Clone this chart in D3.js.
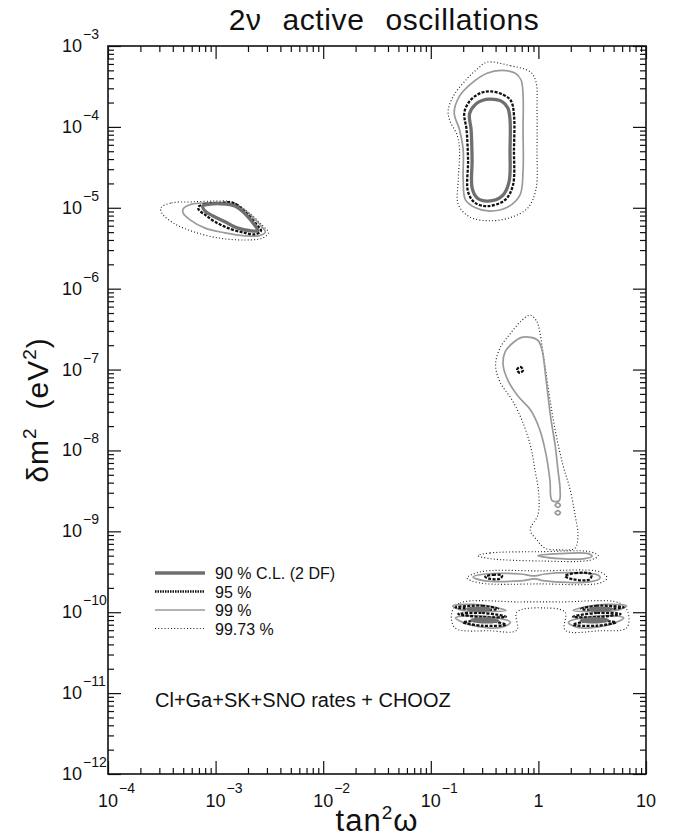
<!DOCTYPE html>
<html>
<head>
<meta charset="utf-8">
<script src="https://cdn.jsdelivr.net/npm/d3@7"></script>
<style>
  body { margin: 0; background: #fff; }
  svg text { font-family: "Liberation Sans", Arial, sans-serif; fill: #111; }
</style>
</head>
<body>
<div id="chart"></div>
<script>
// ---- axis ticks ----
const xMajor = [1e-4, 1e-3, 1e-2, 1e-1, 1, 10];
const xMajorBase = ["10", "10", "10", "10", "1", "10"];
const xMajorExp = ["\u22124", "\u22123", "\u22122", "\u22121", "", ""];
const yMajor = [1e-12, 1e-11, 1e-10, 1e-9, 1e-8, 1e-7, 1e-6, 1e-5, 1e-4, 1e-3];
const yMajorExp = ["\u221212", "\u221211", "\u221210", "\u22129", "\u22128", "\u22127", "\u22126", "\u22125", "\u22124", "\u22123"];

// ---- contours: [tan^2 omega, delta m^2 (eV^2)] ----
// LMA
const lma90 = [[0.36,2.2e-4],[0.46,2.05e-4],[0.52,1.71e-4],[0.545,1.22e-4],[0.545,5.2e-5],[0.533,2.08e-5],[0.46,1.4e-5],[0.34,1.21e-5],[0.27,1.32e-5],[0.242,1.76e-5],[0.242,3.9e-5],[0.237,9.2e-5],[0.229,1.45e-4],[0.26,1.9e-4],[0.3,2.12e-4]];
const lma95 = [[0.36,2.75e-4],[0.47,2.5e-4],[0.556,2.1e-4],[0.593,1.4e-4],[0.593,5.2e-5],[0.58,1.9e-5],[0.49,1.25e-5],[0.34,1.05e-5],[0.258,1.15e-5],[0.222,1.57e-5],[0.222,3.9e-5],[0.215,9.2e-5],[0.205,1.5e-4],[0.231,2.1e-4],[0.286,2.6e-4]];
const lma99 = [[0.45,5.0e-4],[0.61,4.6e-4],[0.69,3.8e-4],[0.72,2.5e-4],[0.72,9.2e-5],[0.72,2.9e-5],[0.675,1.44e-5],[0.52,1.02e-5],[0.355,9.1e-6],[0.26,1.0e-5],[0.21,1.25e-5],[0.2,2.2e-5],[0.2,5.2e-5],[0.185,9.2e-5],[0.165,1.5e-4],[0.185,2.4e-4],[0.242,3.5e-4],[0.333,4.6e-4]];
const lma9973 = [[0.33,6.3e-4],[0.55,5.7e-4],[0.84,4.8e-4],[0.95,3.6e-4],[0.97,1.6e-4],[0.97,5.2e-5],[0.95,1.7e-5],[0.80,1.0e-5],[0.57,7.7e-6],[0.36,6.9e-6],[0.23,7.7e-6],[0.18,1.1e-5],[0.18,2.2e-5],[0.185,5.2e-5],[0.175,8.0e-5],[0.15,1.2e-4],[0.145,1.6e-4],[0.165,2.5e-4],[0.22,4.0e-4],[0.275,5.3e-4]];
// SMA
const sma90 = [[7.6e-4,1.05e-5],[8.9e-4,1.11e-5],[1.22e-3,1.11e-5],[1.51e-3,1.05e-5],[1.92e-3,8.2e-6],[2.37e-3,5.8e-6],[2.48e-3,5.2e-6],[2.09e-3,5.2e-6],[1.61e-3,5.6e-6],[1.22e-3,6.7e-6],[9.5e-4,7.9e-6],[8.0e-4,9.1e-6]];
const sma95 = [[6.9e-4,1.02e-5],[8.0e-4,1.11e-5],[1.1e-3,1.15e-5],[1.45e-3,1.15e-5],[1.87e-3,8.9e-6],[2.43e-3,6.1e-6],[2.64e-3,5.2e-6],[2.32e-3,4.7e-6],[1.87e-3,4.9e-6],[1.36e-3,5.5e-6],[9.9e-4,6.7e-6],[8.0e-4,8.2e-6],[7.0e-4,9.4e-6]];
const sma99 = [[5.0e-4,9.7e-6],[6.0e-4,1.11e-5],[8.0e-4,1.15e-5],[1.22e-3,1.15e-5],[1.58e-3,1.08e-5],[2.1e-3,8.2e-6],[2.7e-3,5.8e-6],[2.9e-3,5.0e-6],[2.5e-3,4.5e-6],[1.87e-3,4.5e-6],[1.22e-3,4.9e-6],[8.0e-4,5.6e-6],[5.8e-4,7.1e-6],[5.0e-4,8.6e-6]];
const sma9973 = [[3.1e-4,1.0e-5],[3.9e-4,1.15e-5],[5.8e-4,1.18e-5],[9.9e-4,1.21e-5],[1.42e-3,1.18e-5],[2.0e-3,8.9e-6],[2.7e-3,6.1e-6],[3.1e-3,4.9e-6],[2.7e-3,4.2e-6],[1.87e-3,4.0e-6],[1.1e-3,4.2e-6],[6.4e-4,5.0e-6],[4.2e-4,6.3e-6],[3.2e-4,8.4e-6]];
// LOW
const low95 = [[0.632,9.9e-8],[0.675,1.08e-7],[0.72,9.9e-8],[0.675,9.1e-8]];
const low99 = [[0.85,2.5e-7],[0.99,2.3e-7],[1.08,1.75e-7],[1.18,7.4e-8],[1.31,2.4e-8],[1.43,1.17e-8],[1.52,5.7e-9],[1.59,3.3e-9],[1.56,2.4e-9],[1.34,2.4e-9],[1.28,4.3e-9],[1.18,8.8e-9],[1.03,1.8e-8],[0.84,3.2e-8],[0.645,4.7e-8],[0.52,7.4e-8],[0.47,1.14e-7],[0.49,1.65e-7],[0.57,2.1e-7],[0.70,2.5e-7]];
const low99a = [[1.43,2.1e-9],[1.52,2.25e-9],[1.6,2.1e-9],[1.52,1.98e-9]];
const low99b = [[1.43,1.7e-9],[1.52,1.8e-9],[1.6,1.7e-9],[1.52,1.6e-9]];
const low9973 = [[0.84,4.7e-7],[0.97,3.9e-7],[1.03,2.9e-7],[1.13,1.32e-7],[1.26,4.9e-8],[1.43,1.8e-8],[1.69,6.6e-9],[1.97,3.3e-9],[2.19,1.6e-9],[2.33,9.0e-10],[2.19,6.2e-10],[1.59,5.9e-10],[1.15,6.2e-10],[0.97,7.8e-10],[0.84,1.04e-9],[0.99,1.6e-9],[1.01,2.8e-9],[0.93,5.7e-9],[0.84,1.17e-8],[0.70,2.4e-8],[0.57,4.2e-8],[0.44,7.0e-8],[0.40,1.14e-7],[0.44,1.85e-7],[0.55,2.8e-7],[0.68,3.9e-7]];
// bands near 5e-10 and 2.7e-10
const bandA99 = [[0.99,5.0e-10],[1.59,5.3e-10],[2.9,5.3e-10],[3.15,4.9e-10],[2.7,4.6e-10],[1.59,4.6e-10]];
const bandA9973 = [[0.275,5.0e-10],[0.355,5.4e-10],[1.03,5.6e-10],[3.0,5.6e-10],[3.6,5.0e-10],[3.0,4.4e-10],[1.03,4.3e-10],[0.355,4.6e-10]];
const bandB95a = [[0.32,2.75e-10],[0.38,2.9e-10],[0.46,2.85e-10],[0.44,2.6e-10],[0.35,2.6e-10]];
const bandB95b = [[1.77,2.8e-10],[2.2,3.05e-10],[3.1,2.95e-10],[3.0,2.55e-10],[2.1,2.55e-10]];
const bandB99 = [[0.247,2.73e-10],[0.32,2.97e-10],[0.675,2.97e-10],[0.93,2.81e-10],[1.15,2.97e-10],[2.42,3.06e-10],[3.58,2.89e-10],[3.74,2.65e-10],[3.0,2.37e-10],[1.15,2.44e-10],[0.93,2.58e-10],[0.675,2.44e-10],[0.32,2.44e-10]];
const bandB9973 = [[0.217,2.65e-10],[0.286,3.15e-10],[1.03,3.24e-10],[3.74,3.15e-10],[4.34,2.65e-10],[3.74,2.3e-10],[1.03,2.24e-10],[0.286,2.3e-10]];
// two lobes near 1e-10 (left and right of maximal mixing)
const cLeft90a = [[0.22,1.1e-10],[0.3,1.12e-10],[0.35,1.08e-10],[0.27,1.06e-10]];
const cLeft90b = [[0.24,8.0e-11],[0.33,8.3e-11],[0.42,7.8e-11],[0.3,7.6e-11]];
const cLeft95a = [[0.17,1.15e-10],[0.3,1.2e-10],[0.42,1.1e-10],[0.3,1.07e-10]];
const cLeft95b = [[0.18,9.5e-11],[0.3,9.8e-11],[0.5,8.8e-11],[0.3,8.7e-11]];
const cLeft95c = [[0.2,7.5e-11],[0.35,7.8e-11],[0.5,7.0e-11],[0.3,6.8e-11]];
const cLeft99a = [[0.16,1.2e-10],[0.25,1.25e-10],[0.4,1.15e-10],[0.5,1.05e-10],[0.35,1.02e-10],[0.2,1.05e-10]];
const cLeft99b = [[0.17,8.5e-11],[0.3,9.0e-11],[0.55,7.5e-11],[0.45,6.5e-11],[0.25,6.8e-11]];
const cRight90a = [[4.8,1.1e-10],[3.5,1.12e-10],[3.0,1.08e-10],[3.9,1.06e-10]];
const cRight90b = [[4.4,8.0e-11],[3.2,8.3e-11],[2.5,7.8e-11],[3.5,7.6e-11]];
const cRight95a = [[6.2,1.15e-10],[3.5,1.2e-10],[2.5,1.1e-10],[3.5,1.07e-10]];
const cRight95b = [[5.8,9.5e-11],[3.5,9.8e-11],[2.1,8.8e-11],[3.5,8.7e-11]];
const cRight95c = [[5.25,7.5e-11],[3.0,7.8e-11],[2.1,7.0e-11],[3.5,6.8e-11]];
const cRight99a = [[6.6,1.2e-10],[4.2,1.25e-10],[2.6,1.15e-10],[2.1,1.05e-10],[3.0,1.02e-10],[5.25,1.05e-10]];
const cRight99b = [[6.2,8.5e-11],[3.5,9.0e-11],[1.9,7.5e-11],[2.3,6.5e-11],[4.2,6.8e-11]];
const bandC9973 = [[0.157,1.0e-10],[0.187,1.3e-10],[0.675,1.34e-10],[1.59,1.34e-10],[5.7,1.3e-10],[6.8,1.0e-10],[6.6,6.4e-11],[3.7,5.9e-11],[1.77,6.0e-11],[1.77,1.0e-10],[1.15,1.13e-10],[0.63,1.0e-10],[0.63,6.0e-11],[0.355,5.9e-11],[0.168,6.4e-11]];

// ---- legend ----
const legendLabels = ["90 % C.L. (2 DF)", "95 %", "99 %", "99.73 %"];
const footnote = "Cl+Ga+SK+SNO rates + CHOOZ";

const levels = [
  {key: "99.73", shapes: [lma9973, sma9973, low9973, bandA9973, bandB9973, bandC9973], color: "#1a1a1a", width: 1.1, dash: "1,2.2"},
  {key: "99", shapes: [lma99, sma99, low99, low99a, low99b, bandA99, bandB99, cLeft99a, cLeft99b, cRight99a, cRight99b], color: "#9a9a9a", width: 1.7, dash: null},
  {key: "95", shapes: [lma95, sma95, low95, bandB95a, bandB95b, cLeft95a, cLeft95b, cLeft95c, cRight95a, cRight95b, cRight95c], color: "#111", width: 2.3, dash: "3,1.4"},
  {key: "90", shapes: [lma90, sma90, cLeft90a, cLeft90b, cRight90a, cRight90b], color: "#6f6f6f", width: 3.3, dash: null}
];

const W = 681, H = 837;
const margin = {top: 46, right: 35, bottom: 63, left: 108};
const width = W - margin.left - margin.right;
const height = H - margin.top - margin.bottom;

const svg = d3.select("#chart").append("svg")
  .attr("width", W).attr("height", H);
const g = svg.append("g")
  .attr("transform", "translate(" + margin.left + "," + margin.top + ")");

const x = d3.scaleLog().domain([1e-4, 10]).range([0, width]);
const y = d3.scaleLog().domain([1e-12, 1e-3]).range([height, 0]);

const line = d3.line()
  .x(d => x(d[0]))
  .y(d => y(d[1]))
  .curve(d3.curveCatmullRomClosed.alpha(0.5));

// contours
levels.forEach(function(lv) {
  g.append("g").attr("class", "cl-" + lv.key)
    .selectAll("path")
    .data(lv.shapes)
    .join("path")
    .attr("d", line)
    .attr("fill", "none")
    .attr("stroke", lv.color)
    .attr("stroke-width", lv.width)
    .attr("stroke-dasharray", lv.dash)
    .attr("stroke-linejoin", "round");
});

// ticks, inward on all four sides
const xMinor = x.ticks().filter(v => xMajor.indexOf(v) < 0);
const yMinor = y.ticks().filter(v => yMajor.indexOf(v) < 0);
const minorLen = 6, majorLen = 13;

function tickAxis(axisFn, scale, vals, len, transform) {
  const a = g.append("g")
    .attr("transform", transform)
    .call(axisFn(scale).tickValues(vals).tickSize(-len).tickFormat(""));
  a.select(".domain").remove();
  a.selectAll("line").attr("stroke", "#111").attr("stroke-width", 1.2);
}
tickAxis(d3.axisBottom, x, xMinor, minorLen, "translate(0," + height + ")");
tickAxis(d3.axisBottom, x, xMajor, majorLen, "translate(0," + height + ")");
tickAxis(d3.axisTop, x, xMinor, minorLen, "translate(0,0)");
tickAxis(d3.axisTop, x, xMajor, majorLen, "translate(0,0)");
tickAxis(d3.axisLeft, y, yMinor, minorLen, "translate(0,0)");
tickAxis(d3.axisLeft, y, yMajor, majorLen, "translate(0,0)");
tickAxis(d3.axisRight, y, yMinor, minorLen, "translate(" + width + ",0)");
tickAxis(d3.axisRight, y, yMajor, majorLen, "translate(" + width + ",0)");

g.append("rect")
  .attr("width", width).attr("height", height)
  .attr("fill", "none").attr("stroke", "#111").attr("stroke-width", 1.6);

// x tick labels
xMajor.forEach(function(v, i) {
  g.append("text")
    .attr("x", x(v)).attr("y", height + 33)
    .attr("text-anchor", "middle")
    .style("font-size", "18px")
    .text(xMajorBase[i]);
  if (xMajorExp[i]) {
    g.append("text")
      .attr("x", x(v) + 11).attr("y", height + 19)
      .style("font-size", "14px")
      .text(xMajorExp[i]);
  }
});

// y tick labels
yMajor.forEach(function(v, i) {
  g.append("text")
    .attr("x", -26).attr("y", y(v) + 6)
    .attr("text-anchor", "end")
    .style("font-size", "18px")
    .text("10");
  g.append("text")
    .attr("x", -25).attr("y", y(v) - 7)
    .style("font-size", "14px")
    .text(yMajorExp[i]);
});

// title and axis titles
svg.append("text")
  .attr("x", 384).attr("y", 30)
  .attr("text-anchor", "middle")
  .style("font-size", "30px")
  .style("letter-spacing", "0.6px")
  .style("word-spacing", "12px")
  .text("2\u03bd active oscillations");

const xt = svg.append("text")
  .attr("x", margin.left + width / 2).attr("y", 831)
  .attr("text-anchor", "middle")
  .style("font-size", "31px")
  .style("letter-spacing", "1px");
xt.append("tspan").text("tan");
xt.append("tspan").attr("dy", -12).style("font-size", "19px").text("2");
xt.append("tspan").attr("dy", 12).text("\u03c9");

const yt = svg.append("text")
  .attr("transform", "translate(48,410) rotate(-90)")
  .attr("text-anchor", "middle")
  .style("font-size", "30px")
  .style("letter-spacing", "1px");
yt.append("tspan").text("\u03b4m");
yt.append("tspan").attr("dy", -12).style("font-size", "19px").text("2");
yt.append("tspan").attr("dy", 12).attr("dx", 18).text("(eV");
yt.append("tspan").attr("dy", -12).style("font-size", "19px").text("2");
yt.append("tspan").attr("dy", 12).text(")");

// legend
const legend = svg.append("g").attr("transform", "translate(155,573)");
levels.slice().reverse().forEach(function(lv, i) {
  const row = legend.append("g").attr("transform", "translate(0," + (i * 18.5) + ")");
  row.append("line")
    .attr("x1", 0).attr("x2", 50)
    .attr("stroke", lv.color)
    .attr("stroke-width", i === 1 ? 2.6 : lv.width)
    .attr("stroke-dasharray", i === 1 ? "1.5,1" : lv.dash);
  row.append("text")
    .attr("x", 60).attr("y", 6)
    .style("font-size", "16px")
    .text(legendLabels[i]);
});

svg.append("text")
  .attr("x", 155).attr("y", 707)
  .style("font-size", "20px")
  .text(footnote);
</script>
</body>
</html>
